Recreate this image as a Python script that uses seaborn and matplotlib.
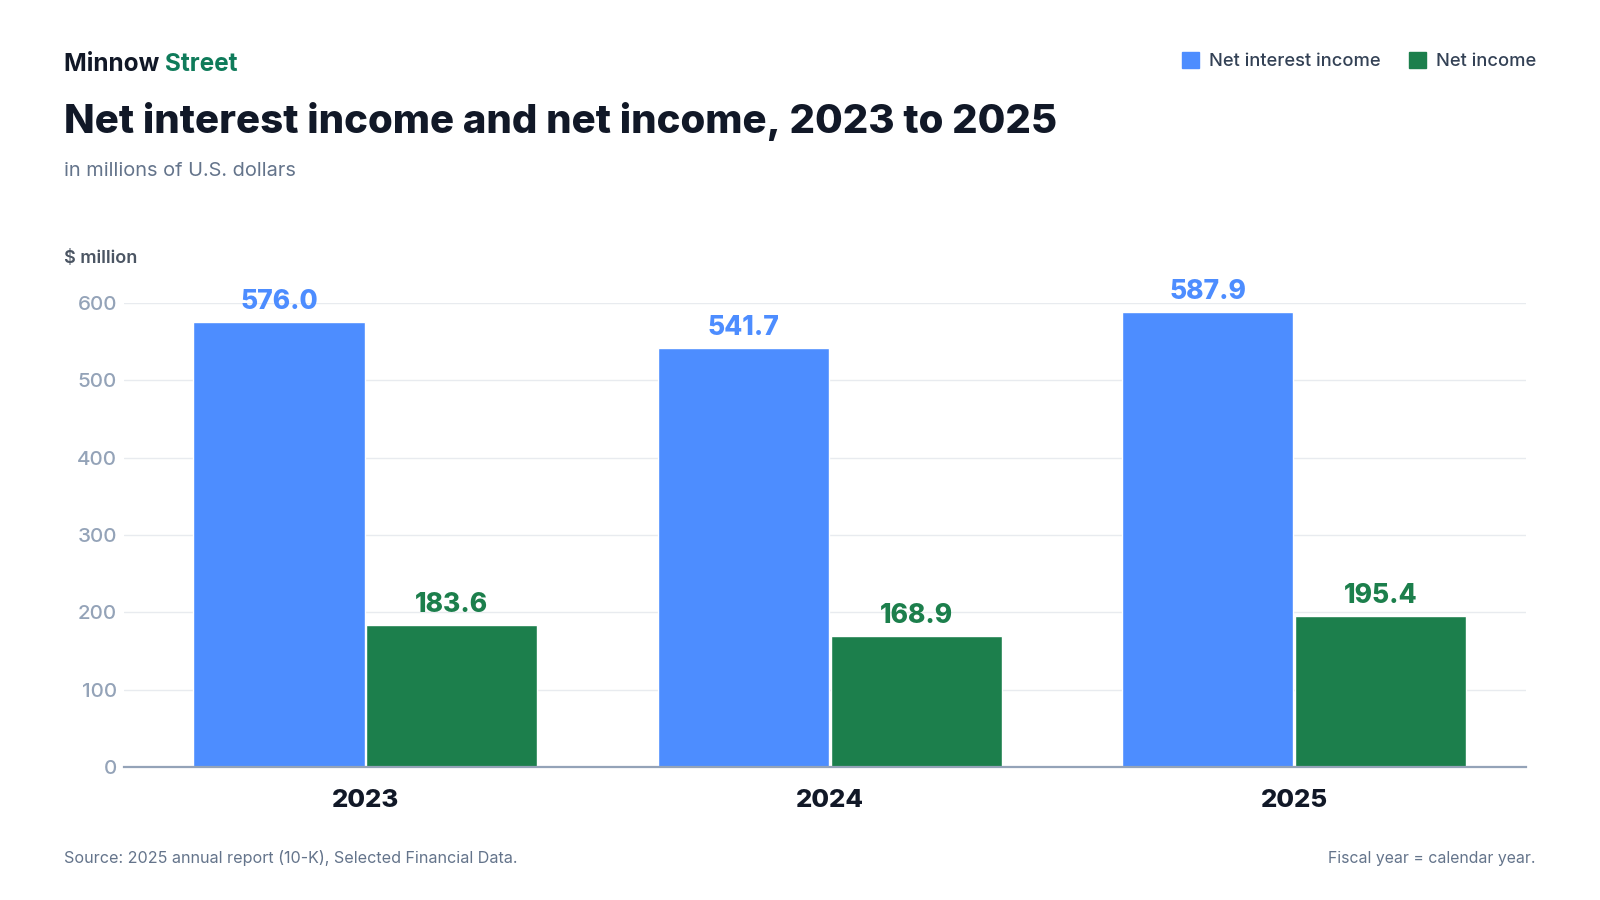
import pandas as pd
import matplotlib.pyplot as plt
import seaborn as sns
from matplotlib.patches import Patch

# chart data
years = ["2023", "2024", "2025"]
net_interest_income = [576.0, 541.7, 587.9]
net_income = [183.6, 168.9, 195.4]
series_names = ["Net interest income", "Net income"]
series_colors = ["#4d8dff", "#1c7f4c"]
y_ticks = [0, 100, 200, 300, 400, 500, 600]

df = pd.DataFrame({
    "year": years * 2,
    "value": net_interest_income + net_income,
    "series": [series_names[0]] * len(years) + [series_names[1]] * len(years),
})

sns.set_theme(style="white")
plt.rcParams["font.family"] = ["Inter", "DejaVu Sans"]

fig = plt.figure(figsize=(16, 9), dpi=100)
ax = fig.add_axes([0.0775, 0.1478, 0.8763, 0.5156])

sns.barplot(
    data=df, x="year", y="value", hue="series",
    palette=series_colors, width=0.745, gap=0.01,
    saturation=1, legend=False, ax=ax,
)

# value labels on top of bars
for cont, col in zip(ax.containers, series_colors):
    ax.bar_label(cont, fmt="%.1f", padding=5, color=col,
                 fontsize=19, fontweight=800, clip_on=False)

ax.set_ylim(0, 600)
ax.set_xlim(-0.52, 2.5)
ax.set_yticks(y_ticks)
ax.set_xlabel("")
ax.set_ylabel("")
ax.grid(axis="y", color="#e8ebef", linewidth=1)
ax.set_axisbelow(True)
for s in ["top", "right", "left"]:
    ax.spines[s].set_visible(False)
ax.spines["bottom"].set_color("#94a3b8")
ax.spines["bottom"].set_linewidth(1.6)
ax.tick_params(axis="y", length=0, pad=5, labelsize=14.8, labelcolor="#94a3b8")
ax.tick_params(axis="x", length=0, pad=16, labelsize=18.5, labelcolor="#111827")
for t in ax.get_yticklabels():
    t.set_fontweight("medium")
for t in ax.get_xticklabels():
    t.set_fontweight(800)

# header
brand = fig.text(0.04, 0.921, "Minnow ", fontsize=17.5, fontweight="bold",
                 color="#111827", va="baseline")
fig.canvas.draw()
bb = brand.get_window_extent().transformed(fig.transFigure.inverted())
fig.text(bb.x1, 0.921, "Street", fontsize=17.5, fontweight="bold",
         color="#0f7b5a", va="baseline")
fig.text(0.04, 0.852, "Net interest income and net income, 2023 to 2025",
         fontsize=28.9, fontweight=800, color="#111827", va="baseline")
fig.text(0.04, 0.8044, "in millions of U.S. dollars", fontsize=14.4,
         color="#64748b", va="baseline")
fig.text(0.04, 0.7078, "$ million", fontsize=13, fontweight="semibold",
         color="#4b5563", va="baseline")

# legend
handles = [Patch(facecolor=c, edgecolor=c, label=n)
           for c, n in zip(series_colors, series_names)]
leg = fig.legend(handles=handles, loc="center right", bbox_to_anchor=(0.9705, 0.932),
                 ncol=2, frameon=False, fontsize=13.2, labelcolor="#334155",
                 handlelength=0.95, handleheight=0.95, handletextpad=0.55,
                 columnspacing=1.5)
for t in leg.get_texts():
    t.set_fontweight("medium")

# footer
fig.text(0.04, 0.041, "Source: 2025 annual report (10-K), Selected Financial Data.",
         fontsize=11.6, color="#64748b", va="baseline")
fig.text(0.9595, 0.041, "Fiscal year = calendar year.", fontsize=11.4,
         color="#64748b", va="baseline", ha="right")

fig.savefig("out.png", dpi=100, facecolor="white")
